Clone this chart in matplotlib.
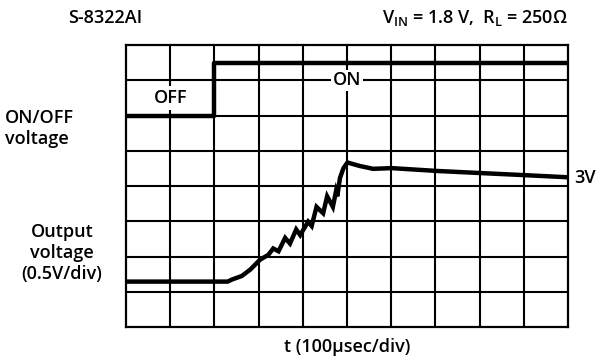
import numpy as np
import matplotlib
matplotlib.use("Agg")
import matplotlib.pyplot as plt

plt.rcParams['font.family'] = ['Open Sans', 'DejaVu Sans']
plt.rcParams['font.weight'] = 'semibold'
plt.rcParams['mathtext.fontset'] = 'custom'
plt.rcParams['mathtext.rm'] = 'Open Sans:semibold'
plt.rcParams['mathtext.default'] = 'regular'

# Scope settings
t_per_div = 100.0      # usec per division
v_per_div = 0.5        # V per division (output channel)
v_ref = 0.875          # output voltage at bottom graticule line
n_xdiv, n_ydiv = 10, 8

# ON/OFF control trace (divisions on screen)
onoff_t = [0, 200, 200, 1000]
onoff_level = [6.0, 6.0, 7.5, 7.5]

# Output voltage trace (usec, V)
out_t = [0, 230, 240, 262, 281, 303, 322, 333, 345, 360, 371, 385, 394,
         412, 420, 431, 446, 455, 468, 475, 478, 484, 492, 501, 529,
         559, 601, 703, 802, 903, 1000]
out_v = [1.52, 1.52, 1.55, 1.60, 1.69, 1.83, 1.90, 1.99, 1.95, 2.14, 2.06,
         2.26, 2.18, 2.37, 2.31, 2.58, 2.49, 2.73, 2.58, 2.80, 2.73, 2.99,
         3.13, 3.21, 3.16, 3.12, 3.13, 3.09, 3.06, 3.03, 3.00]

fig = plt.figure(figsize=(6.03, 3.61), dpi=100)
ax = fig.add_axes([0.209, 0.094, 0.733, 0.781])

# graticule
for i in range(1, n_xdiv):
    ax.axvline(i, color='black', lw=1.5, zorder=1)
for j in range(1, n_ydiv):
    ax.axhline(j, color='black', lw=1.5, zorder=1)

ax.plot(np.array(onoff_t) / t_per_div, onoff_level, color='black', lw=3.2,
        solid_capstyle='butt', zorder=3)
ax.plot(np.array(out_t) / t_per_div, (np.array(out_v) - v_ref) / v_per_div,
        color='black', lw=3.2, solid_joinstyle='miter', zorder=3)

ax.set_xlim(0, n_xdiv)
ax.set_ylim(0, n_ydiv)
ax.set_xticks([])
ax.set_yticks([])
for s in ax.spines.values():
    s.set_linewidth(1.6)

ax.text(1.0, 6.5, 'OFF', ha='center', va='center', fontsize=13,
        bbox=dict(facecolor='white', edgecolor='none', pad=2), zorder=2)
ax.text(5.0, 7.0, 'ON', ha='center', va='center', fontsize=13,
        bbox=dict(facecolor='white', edgecolor='none', pad=1), zorder=2)

fig.text(0.113, 0.950, 'S-8322AI', ha='left', va='center', fontsize=13)
fig.text(0.942, 0.950, '$V_{IN}$ = 1.8 V,  $R_L$ = 250\u03a9', ha='right',
         va='center', fontsize=13)
fig.text(0.008, 0.645, 'ON/OFF\nvoltage', ha='left', va='center',
         fontsize=13, linespacing=1.2)
fig.text(0.103, 0.300, 'Output\nvoltage\n(0.5V/div)', ha='center',
         va='center', fontsize=13, linespacing=1.2)
fig.text(0.953, 0.508, '3V', ha='left', va='center', fontsize=13)
fig.text(0.575, 0.040, 't (100\u00b5sec/div)', ha='center', va='center',
         fontsize=13)

fig.savefig('out.png', dpi=100, facecolor='white')
